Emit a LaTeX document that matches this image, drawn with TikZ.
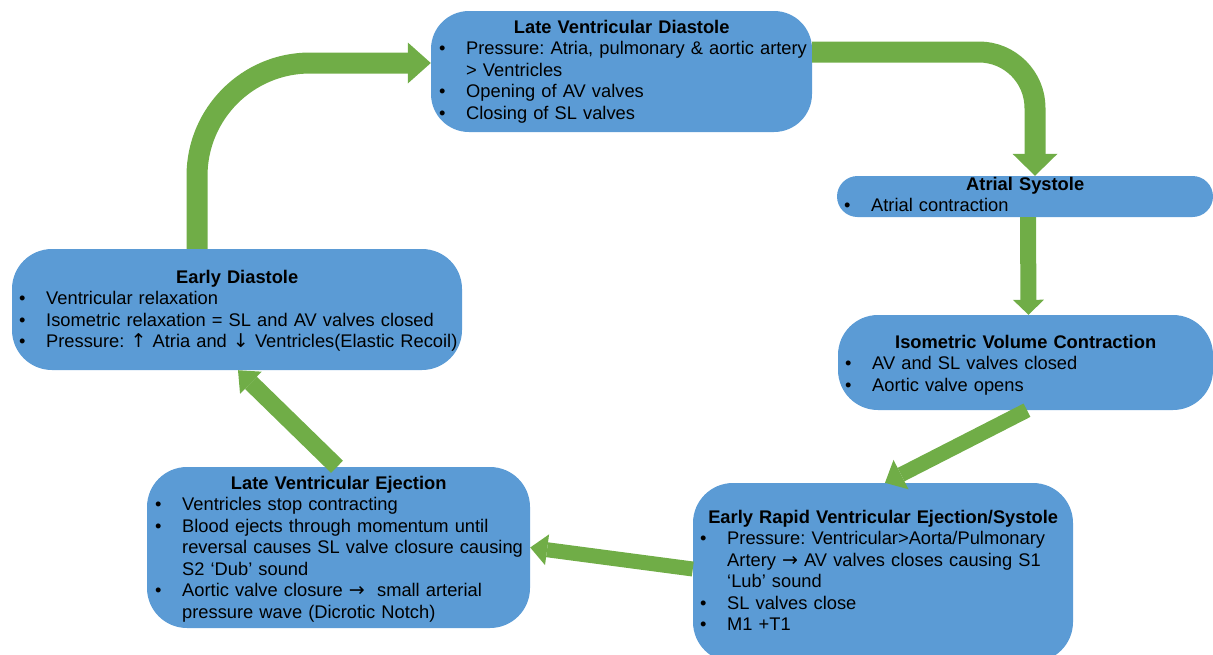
\documentclass[tikz,border=0pt]{standalone}
\usepackage{fontspec}
\setmainfont{Liberation Sans}
\newfontfamily\arrowfont{DejaVu Sans}
\usetikzlibrary{arrows.meta}

\definecolor{boxblue}{HTML}{5B9BD5}
\definecolor{flowgreen}{HTML}{70AD47}

\frenchspacing
% one bulleted entry with a hanging indent
\newcommand{\bitem}[1]{\par\noindent\hangindent=27pt\hangafter=1\makebox[27pt][l]{\textbullet}#1\par}
% centred bold heading over a given width
\newcommand{\heading}[2]{\noindent\makebox[#1][c]{\bfseries #2}\par}
% arrow glyphs set in a font with heavier arrows
\newcommand{\sarr}[1]{{\arrowfont\fontsize{19}{21.5}\selectfont #1}}

\tikzset{
  stage/.style={fill=boxblue, draw=none, inner sep=0pt},
  stagetext/.style={anchor=base west, inner sep=0pt, align=left,
    font=\fontsize{18.3}{21.5}\selectfont},
  flow/.style={draw=flowgreen, line width=#1},
}

\begin{document}
\begin{tikzpicture}[x=1pt,y=-1pt]
\useasboundingbox (0,0) rectangle (1213,654);

% stage boxes
\node[stage, rounded corners=38pt, minimum width=381pt, minimum height=121pt] (lvd) at (621.5,71.5) {};
\node[stage, rounded corners=20.5pt, minimum width=376pt, minimum height=41pt] (as) at (1025,196.5) {};
\node[stage, rounded corners=40pt, minimum width=375pt, minimum height=95pt] (ivc) at (1025.5,362.5) {};
\node[stage, rounded corners=40pt, minimum width=380pt, minimum height=179pt] (erve) at (883,572.5) {};
\node[stage, rounded corners=40pt, minimum width=383pt, minimum height=161pt] (lve) at (338.5,547.5) {};
\node[stage, rounded corners=40pt, minimum width=450pt, minimum height=121pt] (ed) at (237,309.5) {};

% box contents
\node[stagetext, text width=440pt] (lvd-t) at (439,33) {%
  \heading{365pt}{Late Ventricular Diastole}
  \bitem{Pressure: Atria, pulmonary \& aortic artery\newline > Ventricles}
  \bitem{Opening of AV valves}
  \bitem{Closing of SL valves}};

\node[stagetext, text width=440pt] (as-t) at (844,190) {%
  \heading{362pt}{Atrial Systole}
  \bitem{Atrial contraction}};

\node[stagetext, text width=440pt] (ivc-t) at (845,348) {%
  \heading{361pt}{Isometric Volume Contraction}
  \bitem{AV and SL valves closed}
  \bitem{Aortic valve opens}};

\node[stagetext, text width=440pt] (erve-t) at (700,523) {%
  \heading{366pt}{Early Rapid Ventricular Ejection/Systole}
  \bitem{Pressure: Ventricular>Aorta/Pulmonary\newline Artery \sarr{→} AV valves closes causing S1\newline ‘Lub’ sound}
  \bitem{SL valves close}
  \bitem{M1 +T1}};

\node[stagetext, text width=440pt] (lve-t) at (155,489) {%
  \heading{367pt}{Late Ventricular Ejection}
  \bitem{Ventricles stop contracting}
  \bitem{Blood ejects through momentum until\newline reversal causes SL valve closure causing\newline S2 ‘Dub’ sound}
  \bitem{Aortic valve closure \sarr{→} \ small arterial\newline pressure wave (Dicrotic Notch)}};

\node[stagetext, text width=500pt] (ed-t) at (19,283) {%
  \heading{436pt}{Early Diastole}
  \bitem{Ventricular relaxation}
  \bitem{Isometric relaxation = SL and AV valves closed}
  \bitem{Pressure: \sarr{↑} Atria and \sarr{↓} Ventricles(Elastic Recoil)}};

% cycle arrows
\draw[flow=21pt, rounded corners=113pt, -{Triangle[length=23pt,width=41pt,line width=0pt]}]
  ([xshift=-40pt]ed.north) |- ([yshift=8.5pt]lvd.west);
\draw[flow=21pt, rounded corners=56pt, -{Triangle[length=22pt,width=45pt,line width=0pt]}]
  ([yshift=19.5pt]lvd.east) -| ([xshift=10pt]as.north);
\draw[flow=16pt, -{Triangle[length=15pt,width=31pt,line width=0pt]}]
  ([xshift=3pt]as.south) -- ([xshift=3pt]ivc.north);
\draw[flow=15pt, -{Triangle[length=18pt,width=33pt,line width=0pt]}]
  ([xshift=1.5pt]ivc.south) -- ([xshift=2pt]erve.north);
\draw[flow=15pt, -{Triangle[length=17pt,width=31pt,line width=0pt]}]
  ([yshift=3.5pt]erve.west) -- (lve.east);
\draw[flow=17pt, -{Triangle[length=18pt,width=31pt,line width=0pt]}]
  ([xshift=-1.5pt]lve.north) -- ([xshift=1pt]ed.south);
\end{tikzpicture}
\end{document}
